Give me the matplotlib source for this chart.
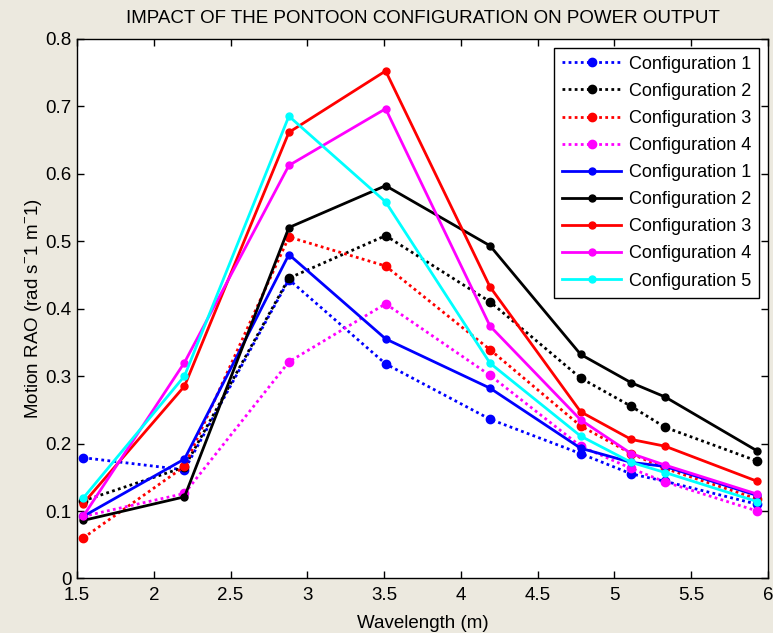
import matplotlib
matplotlib.use('Agg')
import matplotlib.pyplot as plt
from matplotlib.ticker import FormatStrFormatter
from matplotlib import rcParams

rcParams['font.family'] = ['Liberation Sans', 'DejaVu Sans']
rcParams['mathtext.fontset'] = 'custom'
rcParams['mathtext.rm'] = 'Liberation Sans'

# wavelength (m)
wavelength = [1.54, 2.20, 2.88, 3.51, 4.19, 4.78, 5.11, 5.33, 5.93]

# dotted set
dot_c1 = [0.179, 0.161, 0.443, 0.318, 0.236, 0.185, 0.155, 0.144, 0.110]
dot_c2 = [0.115, 0.165, 0.445, 0.508, 0.410, 0.297, 0.255, 0.224, 0.174]
dot_c3 = [0.060, 0.166, 0.506, 0.463, 0.339, 0.226, 0.185, 0.163, 0.118]
dot_c4 = [0.092, 0.126, 0.321, 0.407, 0.301, 0.196, 0.163, 0.143, 0.100]

# solid set
sol_c1 = [0.092, 0.177, 0.480, 0.355, 0.282, 0.193, 0.172, 0.166, 0.123]
sol_c2 = [0.086, 0.121, 0.520, 0.582, 0.493, 0.332, 0.290, 0.269, 0.189]
sol_c3 = [0.111, 0.285, 0.661, 0.752, 0.432, 0.247, 0.206, 0.196, 0.144]
sol_c4 = [0.092, 0.320, 0.612, 0.696, 0.374, 0.235, 0.185, 0.168, 0.125]
sol_c5 = [0.119, 0.300, 0.685, 0.558, 0.319, 0.211, 0.172, 0.157, 0.114]

dotted = [(dot_c1, 'blue', 'Configuration 1'),
          (dot_c2, 'black', 'Configuration 2'),
          (dot_c3, 'red', 'Configuration 3'),
          (dot_c4, 'magenta', 'Configuration 4')]
solid = [(sol_c1, 'blue', 'Configuration 1'),
         (sol_c2, 'black', 'Configuration 2'),
         (sol_c3, 'red', 'Configuration 3'),
         (sol_c4, 'magenta', 'Configuration 4'),
         (sol_c5, 'cyan', 'Configuration 5')]

BG = '#ece9df'
FS = 13.5

fig = plt.figure(figsize=(7.73, 6.33), dpi=100, facecolor=BG)
ax = fig.add_axes([0.0996, 0.0861, 0.8939, 0.853])
ax.set_facecolor('white')

for vals, col, lab in dotted:
    ax.plot(wavelength, vals, color=col, lw=2.0, linestyle=(0, (1.0, 1.2)),
            marker='o', markersize=6, label=lab)
for vals, col, lab in solid:
    ax.plot(wavelength, vals, color=col, lw=2.0, marker='o',
            markersize=5, label=lab)

ax.set_xlim(1.5, 6)
ax.set_ylim(0, 0.8)
ax.set_xticks([1.5, 2, 2.5, 3, 3.5, 4, 4.5, 5, 5.5, 6])
ax.set_yticks([0, 0.1, 0.2, 0.3, 0.4, 0.5, 0.6, 0.7, 0.8])
ax.xaxis.set_major_formatter(FormatStrFormatter('%g'))
ax.yaxis.set_major_formatter(FormatStrFormatter('%g'))
ax.tick_params(direction='in', length=5, width=1, top=True, right=True,
               labelsize=FS)
ax.tick_params(axis='x', pad=6)
ax.tick_params(axis='y', pad=4)
for sp in ax.spines.values():
    sp.set_linewidth(1)

ax.set_title('IMPACT OF THE PONTOON CONFIGURATION ON POWER OUTPUT',
             fontsize=FS, pad=11)
ax.set_xlabel('Wavelength (m)', fontsize=FS, labelpad=8)
ax.set_ylabel(r'Motion RAO (rad s$^{\mathregular{-}}$1 m$^{\mathregular{-}}$1)',
              fontsize=FS, labelpad=1)

leg = ax.legend(loc='upper right', fontsize=13, fancybox=False,
                edgecolor='black', framealpha=1, handlelength=3.3,
                handletextpad=0.4, labelspacing=0.56, borderpad=0.45,
                borderaxespad=0.5)
leg.get_frame().set_linewidth(1)

fig.savefig('out.png', dpi=100, facecolor=BG)
